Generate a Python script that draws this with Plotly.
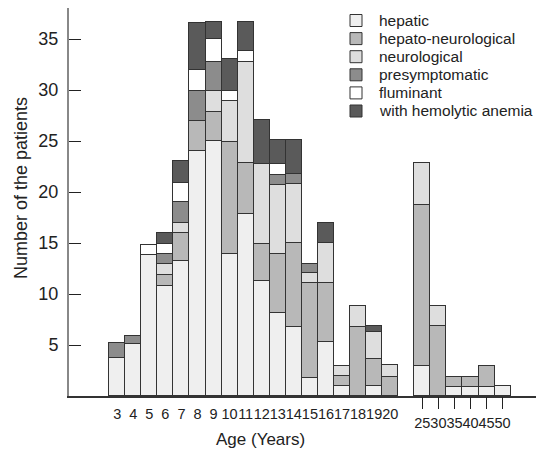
import plotly.graph_objects as go

# ---------------- data ----------------
ages = [3, 4, 5, 6, 7, 8, 9, 10, 11, 12, 13, 14, 15, 16, 17, 18, 19, 20,
        25, 30, 35, 40, 45, 50]

hepatic = [3.7, 5.1, 13.8, 10.8, 13.2, 24.0, 25.0, 13.9, 17.8, 11.3, 8.1, 6.8,
           1.8, 5.3, 1.0, 0, 1.0, 0, 2.9, 0, 0.9, 0.9, 0.9, 1.0]
hepato_neurological = [0, 0, 0, 1.1, 2.8, 3.0, 2.8, 11.0, 5.0, 3.6, 5.8, 8.2,
                       9.3, 5.8, 0.95, 6.8, 2.6, 1.9, 15.8, 6.9, 1.0, 1.0, 2.0, 0]
neurological = [0, 0, 0, 1.0, 1.0, 0, 2.1, 4.05, 9.9, 7.85, 6.8, 5.8,
                1.0, 3.9, 1.0, 2.0, 2.65, 1.1, 4.1, 1.9, 0, 0, 0, 0]
presymptomatic = [1.5, 0.8, 0, 1.0, 2.0, 2.9, 2.8, 0, 0, 0, 1.0, 1.0,
                  0.8, 0, 0, 0, 0, 0, 0, 0, 0, 0, 0, 0]
fluminant = [0, 0, 1.0, 1.0, 1.9, 2.1, 2.3, 1.0, 1.1, 0, 1.0, 0,
             0, 0, 0, 0, 0, 0, 0, 0, 0, 0, 0, 0]
hemolytic_anemia = [0, 0, 0, 1.05, 2.1, 4.6, 1.7, 3.1, 2.9, 4.35, 2.35, 3.3,
                    0, 2.0, 0, 0, 0.6, 0, 0, 0, 0, 0, 0, 0]

series_names = ["hepatic", "hepato-neurological", "neurological",
                "presymptomatic", "fluminant", "with hemolytic anemia"]
series_values = [hepatic, hepato_neurological, neurological,
                 presymptomatic, fluminant, hemolytic_anemia]
series_colors = ["#efefef", "#b8b8b8", "#dedede", "#8c8c8c", "#ffffff", "#5a5a5a"]

y_ticks = [5, 10, 15, 20, 25, 30, 35]

# slot positions: childhood ages one slot each, a one-slot gap before adults
n_child = sum(1 for a in ages if a <= 20)
slots = [a if a <= 20 else 22 + (i - n_child) for i, a in enumerate(ages)]
child_idx = [i for i, a in enumerate(ages) if a <= 20]
adult_idx = [i for i, a in enumerate(ages) if a > 20]

# ---------------- geometry ----------------
OFF = 8                      # page body margin of the browser
W, H = 544 - OFF, 451 - OFF
PW, PH = 471, 388
L, T = 69 - OFF, 8 - OFF
R, B = W - L - PW, H - T - PH
SLOT_PX = 16.06
X_MAX = PW / SLOT_PX
Y_MAX = PH / 10.2


def px(xp):
    return (xp - 69) / PW


def py(yp):
    return (396 - yp) / PH


fig = go.Figure()
for name, vals, col in zip(series_names, series_values, series_colors):
    for idx, xa in ((child_idx, "x"), (adult_idx, "x2")):
        fig.add_trace(go.Bar(
            x=[slots[i] for i in idx],
            y=[vals[i] if vals[i] else None for i in idx],
            name=name, xaxis=xa, yaxis="y",
            width=1.0, marker=dict(color=col, line=dict(color="#333333", width=1)),
            showlegend=False,
        ))

main_font = "Liberation Sans, Arial, Helvetica, sans-serif"

fig.update_layout(
    width=W, height=H, margin=dict(l=L, r=R, t=T, b=B),
    barmode="stack", bargap=0,
    paper_bgcolor="white", plot_bgcolor="white",
    showlegend=False,
    xaxis=dict(range=[0, X_MAX], tickvals=[slots[i] for i in child_idx],
               ticktext=[str(ages[i]) for i in child_idx], tickangle=0,
               ticks="", showgrid=False, zeroline=False, showline=True,
               linecolor="#333333", linewidth=1.5,
               tickfont=dict(family=main_font, size=14.5, color="#222222"),
               ticklabelstandoff=4),
    xaxis2=dict(range=[0, X_MAX], overlaying="x", anchor="y", side="bottom",
                tickvals=[slots[i] for i in adult_idx],
                ticktext=[str(ages[i]) for i in adult_idx], tickangle=0,
                ticks="outside", ticklen=12, tickwidth=1.3, tickcolor="#222222",
                showgrid=False, zeroline=False, showline=False,
                tickfont=dict(family=main_font, size=14.5, color="#222222"),
                ticklabelstandoff=2),
    yaxis=dict(range=[0, Y_MAX], tickvals=y_ticks, ticks="inside", ticklen=12,
               tickwidth=1.2, tickcolor="#222222", showgrid=False, zeroline=False,
               showline=True, linecolor="#888888", linewidth=2,
               tickfont=dict(family=main_font, size=18, color="#222222"),
               ticklabelstandoff=5),
)

annotations = [
    dict(text="Age (Years)", x=px(260.5), y=py(439), xref="paper", yref="paper",
         showarrow=False, xanchor="center", yanchor="middle",
         font=dict(family=main_font, size=17, color="#222222")),
    dict(text="Number of the patients", x=px(20.5), y=py(188.5), xref="paper",
         yref="paper", showarrow=False, textangle=-90, xanchor="center",
         yanchor="middle", font=dict(family=main_font, size=18, color="#222222")),
]

# legend keys next to their labels, one row per series
shapes = []
row_y0, row_step = 20.5, 18.1
for i, (name, col) in enumerate(zip(series_names, series_colors)):
    cy = row_y0 + i * row_step
    shapes.append(dict(type="rect", xref="paper", yref="paper",
                       x0=px(350), x1=px(362), y0=py(cy + 6), y1=py(cy - 6),
                       fillcolor=col, line=dict(color="#333333", width=1)))
    annotations.append(dict(text=name, x=px(377), y=py(cy), xref="paper",
                            yref="paper", showarrow=False, xanchor="left",
                            yanchor="middle",
                            font=dict(family=main_font, size=15.5, color="#222222")))

fig.update_layout(annotations=annotations, shapes=shapes)
fig.write_html("out.html")
